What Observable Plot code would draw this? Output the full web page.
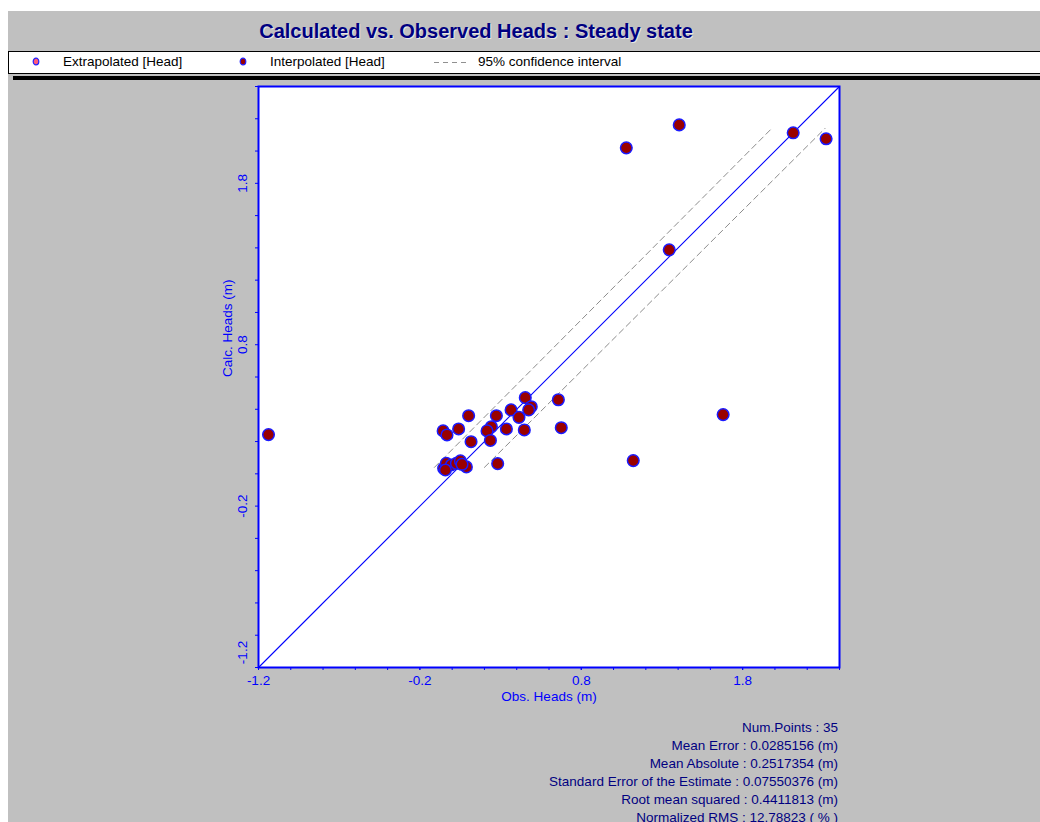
<!DOCTYPE html>
<html>
<head>
<meta charset="utf-8">
<script src="https://cdn.jsdelivr.net/npm/d3@7"></script>
<script src="https://cdn.jsdelivr.net/npm/@observablehq/plot@0.6"></script>
<style>
  body { margin: 0; background: #fff; }
  #wrap { position: relative; width: 1040px; height: 822px; overflow: hidden; background: #fff; font-family: "Liberation Sans", Arial, sans-serif; }
  #bg { position: absolute; left: 8px; top: 11px; right: 0; bottom: 0; background: #c0c0c0; }
  #title { position: absolute; left: 0; top: 19px; width: 952px; text-align: center; font-size: 20px; font-weight: bold; color: #000080; line-height: 24px; white-space: nowrap; text-shadow: 1px 1px 0 #e8e8e8; }
  #legendBox { position: absolute; left: 8px; top: 51px; width: 1040px; height: 23px; background: #fff; border: 1px solid #000; box-sizing: border-box; }
  .lg { position: absolute; top: 54px; font-size: 13.5px; line-height: 16px; color: #000; white-space: nowrap; }
  #bar { position: absolute; left: 13px; top: 76px; right: 0; height: 4px; background: #000; }
  #chart { position: absolute; left: 0; top: 80px; }
  #stats { position: absolute; left: 0; top: 719px; width: 838px; text-align: right; font-size: 13.5px; line-height: 18px; color: #000080; white-space: nowrap; }
</style>
</head>
<body>
<div id="wrap">
  <div id="bg"></div>
  <div id="title"></div>
  <div id="legendBox"></div>
  <div id="legend"></div>
  <div id="bar"></div>
  <div id="chart"></div>
  <div id="stats"></div>
</div>
<script>
// ---- Data ----
const obsHeads = [-1.138, 1.079, 1.407, 2.113, 2.317, 1.345, 1.679, 1.122, 0.658, 0.676,
  0.102, 0.274, 0.365, 0.414, 0.453, 0.490, 0.474, -0.056, -0.032, 0.040,
  0.117, 0.243, 0.216, 0.237, 0.336, 0.447, 0.282, -0.053, -0.036, -0.005,
  0.026, 0.051, 0.088, -0.042, 0.061];
const calcHeads = [0.243, 2.020, 2.162, 2.113, 2.076, 1.388, 0.367, 0.082, 0.459, 0.286,
  0.360, 0.360, 0.396, 0.350, 0.472, 0.416, 0.396, 0.266, 0.241, 0.278,
  0.199, 0.292, 0.266, 0.207, 0.278, 0.272, 0.063, 0.034, 0.065, 0.055,
  0.065, 0.080, 0.043, 0.024, 0.059];
const oneToOneObs = [-1.2, 2.4];
const oneToOneCalc = [-1.2, 2.4];
const ciUpperObs = [-0.11, 1.98];
const ciUpperCalc = [0.04, 2.14];
const ciLowerObs = [0.20, 2.31];
const ciLowerCalc = [0.04, 2.14];
const xMajorTicks = [-1.2, -0.2, 0.8, 1.8];
const yMajorTicks = [-1.2, -0.2, 0.8, 1.8];
const minorTicks = [-1.2, -1.0, -0.8, -0.6, -0.4, -0.2, 0.0, 0.2, 0.4, 0.6, 0.8, 1.0, 1.2, 1.4, 1.6, 1.8, 2.0, 2.2, 2.4];
const axisDomain = [-1.2, 2.4];

const titleText = "Calculated vs. Observed Heads : Steady state";
const legendItems = ["Extrapolated [Head]", "Interpolated [Head]", "95% confidence interval"];
const xLabel = "Obs. Heads (m)";
const yLabel = "Calc. Heads (m)";
const statsLines = [
  "Num.Points : 35",
  "Mean Error : 0.0285156 (m)",
  "Mean Absolute : 0.2517354 (m)",
  "Standard Error of the Estimate : 0.07550376 (m)",
  "Root mean squared : 0.4411813 (m)",
  "Normalized RMS : 12.78823 ( % )"
];

// ---- Build ----
const blue = "#0000ff";
const points = obsHeads.map((x, i) => ({x, y: calcHeads[i]}));
const oneToOne = oneToOneObs.map((x, i) => ({x, y: oneToOneCalc[i]}));
const ciUpper = ciUpperObs.map((x, i) => ({x, y: ciUpperCalc[i]}));
const ciLower = ciLowerObs.map((x, i) => ({x, y: ciLowerCalc[i]}));
const fmt = d => d.toFixed(1);

document.getElementById("title").textContent = titleText;

const legend = document.getElementById("legend");
const mk = (fill) => `<svg width="8" height="9" style="position:absolute;left:-4px;top:3px"><ellipse cx="4" cy="4.5" rx="2.8" ry="3.3" fill="${fill}" stroke="#2020ff" stroke-width="1.2"/></svg>`;
legend.innerHTML =
  `<div class="lg" style="left:36px">${mk("#ff5a78")}</div>` +
  `<div class="lg" style="left:63px">${legendItems[0]}</div>` +
  `<div class="lg" style="left:243px">${mk("#990000")}</div>` +
  `<div class="lg" style="left:270px">${legendItems[1]}</div>` +
  `<div class="lg" style="left:434px"><svg width="34" height="16" style="position:absolute;left:0;top:0"><line x1="0" y1="8.5" x2="32" y2="8.5" stroke="#909090" stroke-dasharray="5,4"/></svg></div>` +
  `<div class="lg" style="left:478px">${legendItems[2]}</div>`;

const chart = Plot.plot({
  width: 1040,
  height: 640,
  marginLeft: 258,
  marginRight: 201,
  marginTop: 6,
  marginBottom: 53,
  x: {domain: axisDomain},
  y: {domain: axisDomain},
  style: {background: "transparent", fontFamily: "'Liberation Sans', Arial, sans-serif", fontSize: "13.5px", overflow: "visible"},
  marks: [
    Plot.frame({fill: "white", stroke: null}),
    Plot.line(ciUpper, {x: "x", y: "y", stroke: "#8c8c8c", strokeWidth: 1, strokeDasharray: "6,4"}),
    Plot.line(ciLower, {x: "x", y: "y", stroke: "#8c8c8c", strokeWidth: 1, strokeDasharray: "6,4"}),
    Plot.line(oneToOne, {x: "x", y: "y", stroke: "#0000ff", strokeWidth: 1.1}),
    Plot.dot(points, {x: "x", y: "y", r: 5.8, fill: "#990000", stroke: "#1a1aff", strokeWidth: 1.5}),
    Plot.axisX({ticks: minorTicks, tickSize: 3, tickFormat: () => "", color: blue, label: null}),
    Plot.axisX({ticks: xMajorTicks, tickSize: 3, tickPadding: 5, tickFormat: fmt, color: blue, label: null, fontSize: 13.5}),
    Plot.axisY({ticks: minorTicks, tickSize: 3, tickFormat: () => "", color: blue, label: null}),
    Plot.axisY({ticks: yMajorTicks.filter(d => d > axisDomain[0]), tickSize: 0, tickPadding: 12, tickRotate: -90, tickFormat: fmt, color: blue, label: null, fontSize: 13.5}),
    Plot.axisY({ticks: yMajorTicks.filter(d => d === axisDomain[0]), tickSize: 0, tickPadding: 12, tickRotate: -90, tickFormat: fmt, color: blue, label: null, fontSize: 13.5, dy: -15}),
    Plot.frame({stroke: blue, strokeWidth: 2}),
    Plot.text([xLabel], {frameAnchor: "bottom", dy: 33, text: d => d, fill: blue, fontSize: 13.5}),
    Plot.text([yLabel], {frameAnchor: "left", dx: -31, rotate: -90, text: d => d, fill: blue, fontSize: 13.5})
  ]
});
document.getElementById("chart").appendChild(chart);

document.getElementById("stats").innerHTML = statsLines.map(s => `<div>${s}</div>`).join("");
</script>
</body>
</html>
